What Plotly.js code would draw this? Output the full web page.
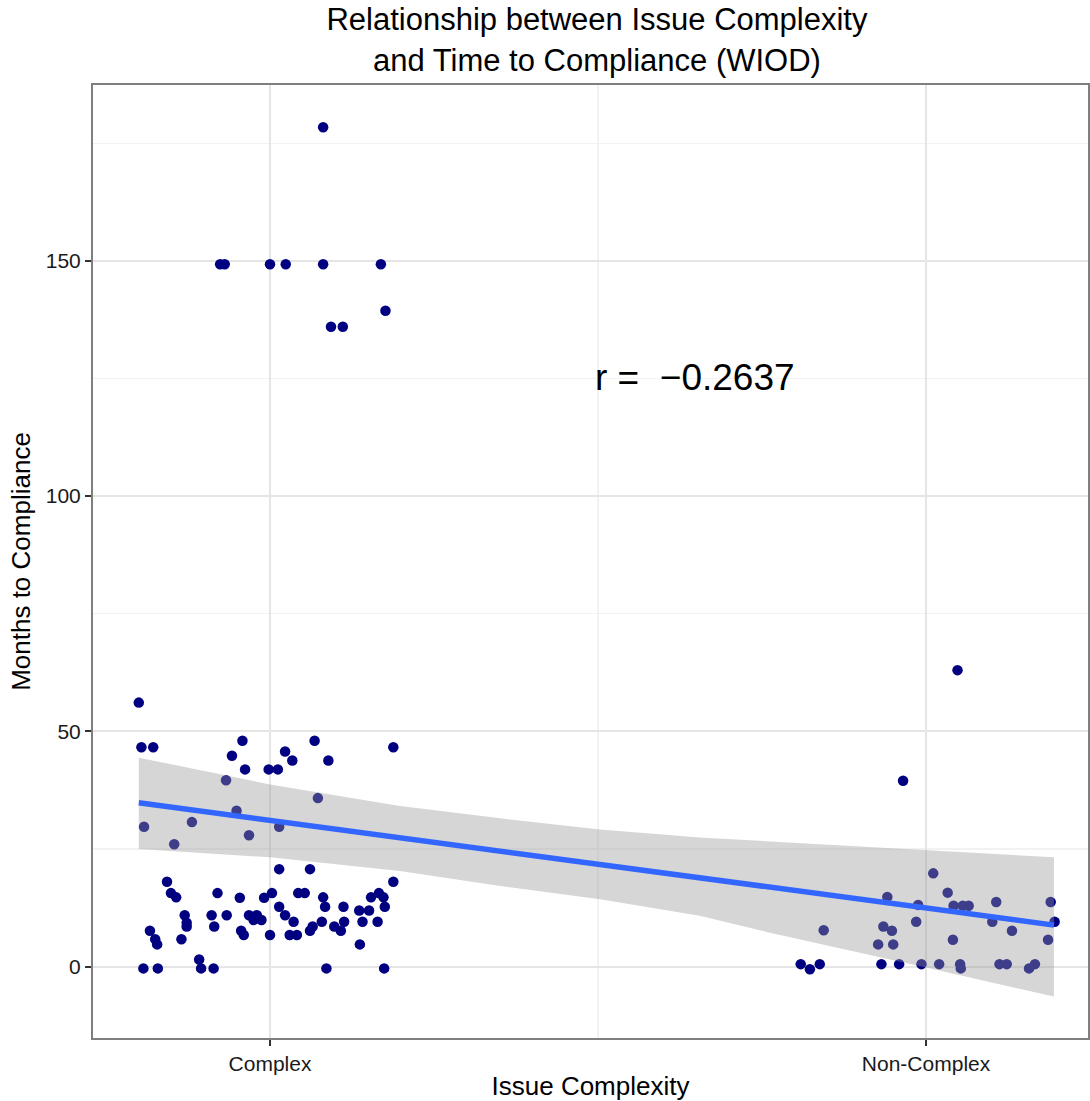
<!DOCTYPE html>
<html>
<head>
<meta charset="utf-8">
<script src="https://cdn.plot.ly/plotly-3.0.1.min.js"></script>
<style>html,body{margin:0;padding:0;background:#fff;}#chart{width:1090px;height:1101px;}</style>
</head>
<body>
<div id="chart"></div>
<script>
// Category tick labels (x positions 1 and 2, points jittered around them)
const categories = ["Complex", "Non-Complex"];
const categoryPositions = [1, 2];

// Jittered observations, "Complex" group
const complexX = [0.800,0.804,0.822,0.958,1.068,1.188,0.942,1.023,1.034,1.089,
  0.962,0.998,1.012,0.933,1.073,0.808,0.881,0.949,0.968,0.854,
  1.014,1.014,1.061,0.843,1.188,0.849,0.857,0.920,0.954,0.991,
  1.003,1.043,1.053,1.081,1.084,1.112,1.136,1.151,1.154,1.166,
  1.173,1.175,0.870,0.873,0.873,0.911,0.934,0.968,0.980,0.975,
  0.987,1.014,1.023,1.036,0.915,0.956,0.960,1.000,1.030,1.041,
  1.061,1.065,1.079,1.098,1.108,1.113,1.141,1.164,1.137,0.817,
  0.825,0.828,0.865,0.892,0.895,0.807,0.829,0.914,1.086,1.174,
  1.081,0.924,0.931,1.000,1.024,1.081,1.169,1.176,1.093,1.111];
const complexY = [56.1,46.6,46.6,48.0,48.0,46.6,44.8,45.7,43.8,43.8,
  41.9,41.9,41.9,39.6,35.8,29.7,30.7,33.1,27.9,26.0,
  29.7,20.7,20.7,18.0,18.0,15.6,14.7,15.6,14.6,14.6,
  15.6,15.6,15.6,14.7,12.7,12.7,11.9,11.9,14.7,15.6,
  14.7,12.7,10.9,9.3,8.5,10.9,10.9,10.9,10.9,9.9,
  9.9,12.7,10.9,9.5,8.5,7.6,6.7,6.7,6.7,6.7,
  7.6,8.5,9.5,8.5,7.6,9.5,9.5,9.5,4.7,7.6,
  5.8,4.7,5.8,1.5,-0.4,-0.4,-0.4,-0.4,-0.4,-0.4,
  178.4,149.3,149.3,149.3,149.3,149.3,149.3,139.4,136.0,136.0];

// Jittered observations, "Non-Complex" group
const nonComplexX = [2.048,1.965,2.011,2.033,1.941,1.988,2.042,2.056,2.065,2.107,
  2.190,1.844,1.935,1.948,1.985,2.101,2.131,2.196,1.927,1.950,
  2.041,2.186,1.809,1.823,1.838,1.932,1.959,1.993,2.020,2.052,
  2.053,2.112,2.123,2.157,2.166];
const nonComplexY = [63.0,39.5,19.8,15.7,14.8,13.1,12.9,12.9,12.9,13.7,
  13.7,7.7,8.5,7.6,9.5,9.5,7.6,9.5,4.7,4.7,
  5.7,5.7,0.5,-0.6,0.5,0.5,0.5,0.5,0.5,0.5,
  -0.4,0.5,0.5,-0.4,0.5];

// Linear fit with 95% confidence band
const smoothX = [0.800, 1.000, 1.198, 1.351, 1.503, 1.655, 1.762, 2.000, 2.195];
const smoothFit = [34.8, 31.1, 27.4, 24.5, 21.7, 18.9, 16.9, 12.5, 8.8];
const smoothUpper = [44.4, 38.7, 34.1, 31.5, 29.1, 27.4, 26.6, 24.7, 23.2];
const smoothLower = [25.0, 23.2, 20.3, 17.1, 14.3, 10.8, 7.2, -0.2, -6.4];

const yTickVals = [0, 50, 100, 150];
const annotationText = "r =\u00a0 \u22120.2637";

const FONT = "Liberation Sans, Arial, Helvetica, sans-serif";

const points = {
  type: "scatter", mode: "markers",
  x: complexX.concat(nonComplexX),
  y: complexY.concat(nonComplexY),
  marker: {color: "#000080", size: 10.5, line: {width: 0}},
  hoverinfo: "skip", showlegend: false
};
const ribbon = {
  type: "scatter", mode: "lines",
  x: smoothX.concat(smoothX.slice().reverse()),
  y: smoothUpper.concat(smoothLower.slice().reverse()),
  fill: "toself", fillcolor: "rgba(153,153,153,0.4)",
  line: {width: 0, color: "rgba(0,0,0,0)"},
  hoverinfo: "skip", showlegend: false
};
const fitLine = {
  type: "scatter", mode: "lines",
  x: smoothX, y: smoothFit,
  line: {color: "#3366FF", width: 5.5},
  hoverinfo: "skip", showlegend: false
};

const layout = {
  width: 1090, height: 1101,
  margin: {l: 93, r: 2, t: 85, b: 63},
  paper_bgcolor: "#ffffff", plot_bgcolor: "#ffffff",
  font: {family: FONT, color: "#000"},
  showlegend: false,
  title: {
    text: "Relationship between Issue Complexity<br>and Time to Compliance (WIOD)",
    font: {family: FONT, size: 31, color: "#000"},
    x: 0.5065, xref: "paper", xanchor: "center",
    y: 0.9725, yref: "container", yanchor: "top"
  },
  xaxis: {
    range: [0.7302, 2.2469],
    tickmode: "array", tickvals: categoryPositions, ticktext: categories,
    ticks: "outside", ticklen: 6, tickwidth: 2, tickcolor: "#333333",
    tickfont: {family: FONT, size: 21, color: "#1a1a1a"},
    showgrid: true, gridcolor: "#E5E5E5", gridwidth: 2,
    minor: {tickmode: "array", tickvals: [1.5], showgrid: true, gridcolor: "#F2F2F2", gridwidth: 1.5, ticks: ""},
    zeroline: false,
    showline: true, linecolor: "#7F7F7F", linewidth: 2, mirror: true,
    title: {text: "Issue Complexity", font: {family: FONT, size: 26, color: "#000"}, standoff: 8}
  },
  yaxis: {
    range: [-15.2, 187.4],
    tickmode: "array", tickvals: yTickVals,
    ticks: "outside", ticklen: 6, tickwidth: 2, tickcolor: "#333333",
    tickfont: {family: FONT, size: 21, color: "#1a1a1a"},
    showgrid: true, gridcolor: "#E5E5E5", gridwidth: 2,
    minor: {tickmode: "linear", tick0: 25, dtick: 50, showgrid: true, gridcolor: "#F2F2F2", gridwidth: 1.5, ticks: ""},
    zeroline: false,
    showline: true, linecolor: "#7F7F7F", linewidth: 2, mirror: true,
    title: {text: "Months to Compliance", font: {family: FONT, size: 26, color: "#000"}, standoff: 8}
  },
  annotations: [{
    x: 1.648, y: 125.3, xref: "x", yref: "y",
    text: annotationText, showarrow: false,
    xanchor: "center", yanchor: "middle",
    font: {family: FONT, size: 37, color: "#000"}
  }]
};

Plotly.newPlot("chart", [points, ribbon, fitLine], layout, {displayModeBar: false, staticPlot: true});
</script>
</body>
</html>
